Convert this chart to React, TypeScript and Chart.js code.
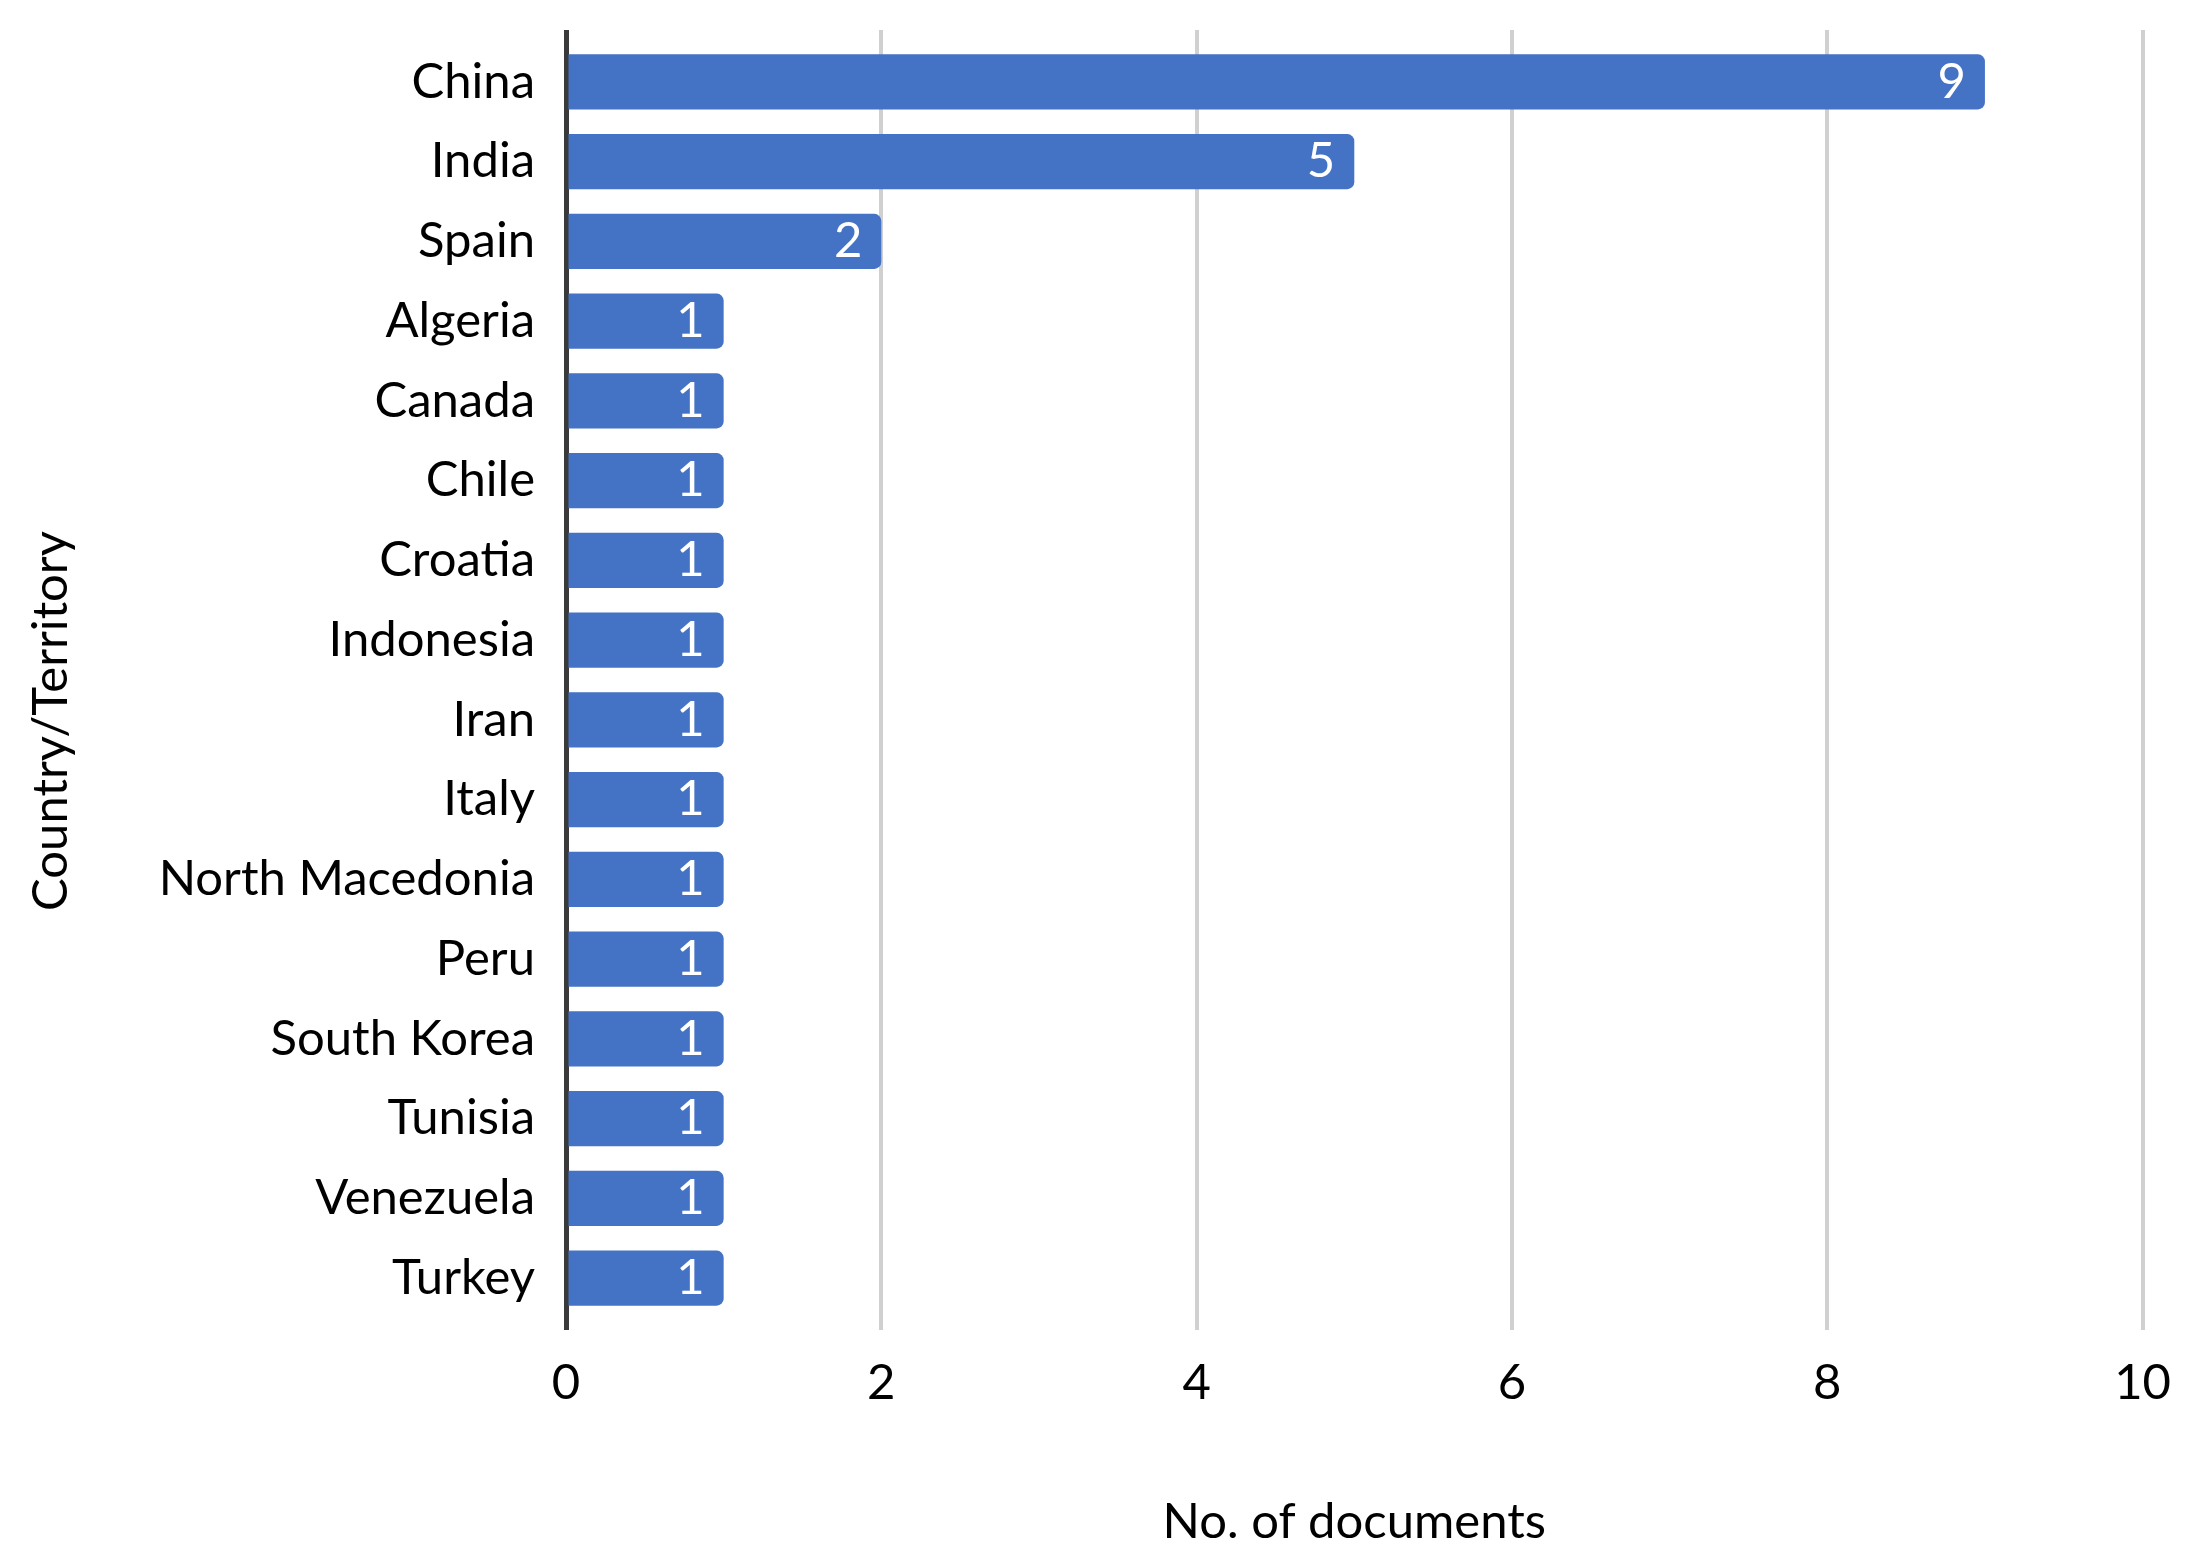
import React, { useEffect, useRef } from "react";
import { Chart, registerables } from "chart.js";

Chart.register(...registerables);

const categories = [
  "China", "India", "Spain", "Algeria", "Canada", "Chile", "Croatia", "Indonesia",
  "Iran", "Italy", "North Macedonia", "Peru", "South Korea", "Tunisia", "Venezuela", "Turkey",
];
const documents = [9, 5, 2, 1, 1, 1, 1, 1, 1, 1, 1, 1, 1, 1, 1, 1];
const xTickMin = 0;
const xTickMax = 10;
const xTickStep = 2;
const xTitle = "No. of documents";
const yTitle = "Country/Territory";

const FONT = "Lato, 'Open Sans', sans-serif";
const FONT_SIZE = 49;
const BAR_COLOR = "#4472C4";

const gridColor = (ctx: any) => (ctx.tick && ctx.tick.value === 0 ? "#3a3a3a" : "#d0d0d0");
const gridWidth = (ctx: any) => (ctx.tick && ctx.tick.value === 0 ? 5 : 4);

const labelsPlugin = {
  id: "barValueLabels",
  afterDatasetsDraw(chart: any) {
    const ctx = chart.ctx;
    const meta = chart.getDatasetMeta(0);
    const data = chart.data.datasets[0].data;
    ctx.save();
    ctx.fillStyle = "#ffffff";
    ctx.font = `${FONT_SIZE}px ${FONT}`;
    ctx.textAlign = "right";
    ctx.textBaseline = "middle";
    meta.data.forEach((bar: any, i: number) => {
      ctx.fillText(String(data[i]), bar.x - 19, bar.y);
    });
    ctx.restore();
  },
};

const titlesPlugin = {
  id: "axisTitles",
  afterDraw(chart: any) {
    const ctx = chart.ctx;
    const area = chart.chartArea;
    ctx.save();
    ctx.fillStyle = "#000000";
    ctx.font = `${FONT_SIZE}px ${FONT}`;
    ctx.textAlign = "center";
    ctx.textBaseline = "alphabetic";
    ctx.fillText(xTitle, (area.left + area.right) / 2, 1538);
    ctx.translate(67, 721);
    ctx.rotate(-Math.PI / 2);
    ctx.fillText(yTitle, 0, 0);
    ctx.restore();
  },
};

export default function App() {
  const canvasRef = useRef<HTMLCanvasElement | null>(null);

  useEffect(() => {
    document.body.style.margin = "0";
    const canvas = canvasRef.current;
    if (!canvas) return;
    const chart = new Chart(canvas, {
      type: "bar",
      data: {
        labels: categories,
        datasets: [
          {
            data: documents,
            backgroundColor: BAR_COLOR,
            borderWidth: 0,
            borderRadius: 7,
            borderSkipped: "start",
            barPercentage: 0.69,
            categoryPercentage: 1,
          },
        ],
      },
      options: {
        indexAxis: "y",
        responsive: false,
        animation: false,
        devicePixelRatio: 1,
        layout: { padding: { left: 0, right: 52, top: 0, bottom: 0 } },
        plugins: {
          legend: { display: false },
          tooltip: { enabled: false },
          title: { display: false },
        },
        scales: {
          x: {
            type: "linear",
            position: "bottom",
            min: xTickMin,
            max: xTickMax,
            border: { display: false },
            grid: {
              color: gridColor,
              lineWidth: gridWidth,
              drawTicks: true,
              tickLength: 12,
            },
            ticks: {
              stepSize: xTickStep,
              padding: 24,
              color: "#000000",
              font: { family: FONT, size: FONT_SIZE },
            },
            afterFit(scale: any) {
              scale.height = 249;
            },
          },
          xTop: {
            type: "linear",
            position: "top",
            min: xTickMin,
            max: xTickMax,
            border: { display: false },
            grid: {
              color: gridColor,
              lineWidth: gridWidth,
              drawOnChartArea: false,
              drawTicks: true,
              tickLength: 12,
            },
            ticks: { stepSize: xTickStep, display: false },
            afterFit(scale: any) {
              scale.height = 42;
              scale.paddingLeft = 0;
              scale.paddingRight = 0;
            },
          },
          y: {
            type: "category",
            position: "left",
            border: { display: false },
            grid: { display: false, drawTicks: false },
            ticks: {
              padding: 31,
              color: "#000000",
              autoSkip: false,
              font: { family: FONT, size: FONT_SIZE },
            },
            afterFit(scale: any) {
              scale.width = 566;
              scale.paddingTop = 0;
              scale.paddingBottom = 0;
            },
          },
        },
      } as any,
      plugins: [labelsPlugin, titlesPlugin],
    });
    return () => chart.destroy();
  }, []);

  return (
    <div style={{ width: 2195, height: 1567 }}>
      <canvas ref={canvasRef} width={2195} height={1567} style={{ display: "block", width: 2195, height: 1567 }} />
    </div>
  );
}
